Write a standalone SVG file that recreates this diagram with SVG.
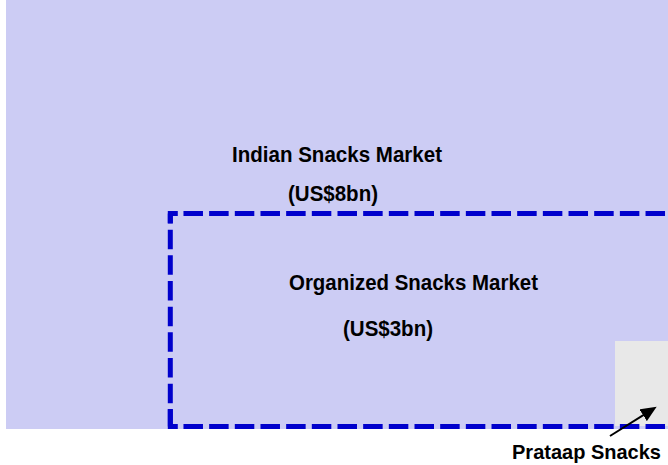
<svg xmlns="http://www.w3.org/2000/svg" width="668" height="465" viewBox="0 0 668 465">
<style>
.lbl{font-family:"Liberation Sans",Arial,sans-serif;font-weight:bold;font-size:21.5px;fill:#000}
.dash{fill:none;stroke:#0000cc;stroke-width:5;stroke-dasharray:19.5 6.17}
.corner{fill:none;stroke:#0000cc;stroke-width:5;stroke-linejoin:miter}
</style>
<defs>
<marker id="ah" markerUnits="userSpaceOnUse" viewBox="0 0 16 14" markerWidth="16" markerHeight="14" refX="4" refY="7" orient="auto">
<path d="M0,0 L16,7 L0,14 z" fill="#000"/>
</marker>
</defs>
<g id="indian-market">
<rect x="6" y="0" width="662" height="429" fill="#ccccf4"/>
<text class="lbl" x="232" y="162" textLength="210" lengthAdjust="spacingAndGlyphs">Indian Snacks Market</text>
<text class="lbl" x="288" y="201" textLength="90" lengthAdjust="spacingAndGlyphs">(US$8bn)</text>
</g>
<g id="prataap-box">
<rect x="615" y="341" width="53" height="85" fill="#e8e8e8"/>
</g>
<g id="organized-market">
<path class="dash" d="M170.3,213.5 H668" stroke-dashoffset="12.5"/>
<path class="dash" d="M170.3,426.5 H668" stroke-dashoffset="12.5"/>
<path class="dash" d="M170.3,213.5 V426.5" stroke-dashoffset="9.5"/>
<path class="corner" d="M170.3,223.3 V213.5 H177.7"/>
<path class="corner" d="M170.3,409 V426.5 H177.7"/>
<text class="lbl" x="289" y="290" textLength="249" lengthAdjust="spacingAndGlyphs">Organized Snacks Market</text>
<text class="lbl" x="343" y="336" textLength="90" lengthAdjust="spacingAndGlyphs">(US$3bn)</text>
</g>
<g id="prataap-label">
<text class="lbl" x="512" y="459" style="font-size:20.5px" textLength="149" lengthAdjust="spacingAndGlyphs">Prataap Snacks</text>
</g>
<g id="connectors">
<line x1="610" y1="436" x2="646.5" y2="413.1" stroke="#000" stroke-width="2" marker-end="url(#ah)"/>
</g>
</svg>
